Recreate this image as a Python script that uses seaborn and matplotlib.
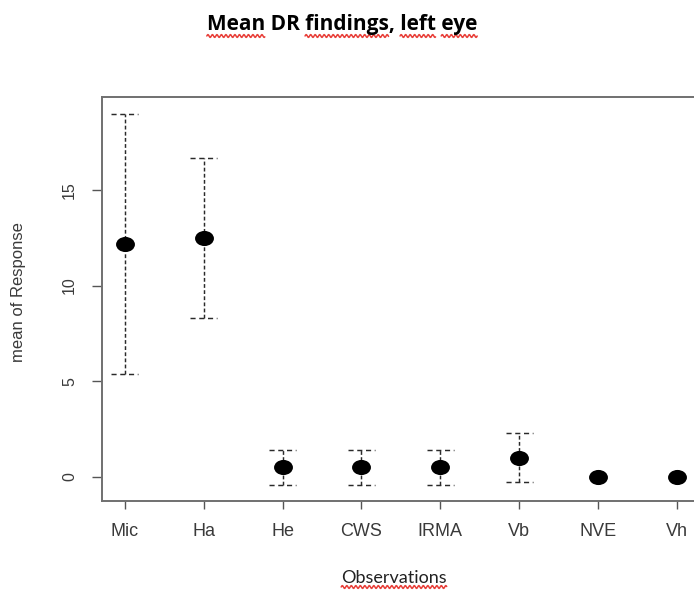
import numpy as np
import pandas as pd
import matplotlib
matplotlib.use("Agg")
import matplotlib.pyplot as plt
from matplotlib.path import Path
from matplotlib.transforms import Affine2D
from matplotlib.lines import Line2D
import seaborn as sns

categories = ["Mic", "Ha", "He", "CWS", "IRMA", "Vb", "NVE", "Vh"]
means = [12.2, 12.5, 0.5, 0.5, 0.5, 1.0, 0.0, 0.0]
upper = [19.0, 16.7, 1.4, 1.4, 1.4, 2.3, np.nan, np.nan]
lower = [5.4, 8.3, -0.45, -0.45, -0.45, -0.3, np.nan, np.nan]
yticks = [0, 5, 10, 15]

sns.set_style("white")
plt.rcParams["font.family"] = ["Liberation Sans", "DejaVu Sans"]

df = pd.DataFrame({"category": categories, "mean": means,
                   "upper": upper, "lower": lower})
df["pos"] = np.arange(len(df))

W, H = 694, 590
fig = plt.figure(figsize=(W / 100, H / 100), dpi=100)
ax = fig.add_axes([102 / W, (H - 500.7) / H, 597.7 / W, 403.7 / H])

# error bars (dashed) and dashed caps
err = df.dropna(subset=["upper"])
ax.vlines(err["pos"], err["lower"], err["upper"], colors="#2a2a2a",
          linestyles=(0, (2.6, 1.6)), linewidth=1.05, zorder=2)
cw = 0.17
ax.hlines(err["upper"], err["pos"] - cw, err["pos"] + cw, colors="#2a2a2a",
          linestyles=(0, (3.5, 2.5)), linewidth=1.05, zorder=2)
ax.hlines(err["lower"], err["pos"] - cw, err["pos"] + cw, colors="#2a2a2a",
          linestyles=(0, (3.5, 2.5)), linewidth=1.05, zorder=2)

# slightly wide dot, as in the (horizontally stretched) original
ellipse = Path.unit_circle().transformed(Affine2D().scale(1.25, 1.0))
sns.scatterplot(data=df, x="pos", y="mean", ax=ax, color="black", s=185,
                marker=ellipse, edgecolor="black", linewidth=0, zorder=3,
                legend=False)

ax.set_xlim(-0.29, 7.29)
ax.set_ylim(-1.256, 19.87)
ax.set_xticks(df["pos"])
ax.set_xticklabels(categories)
ax.set_yticks(yticks)
ax.set_yticklabels([str(t) for t in yticks])

for side in ["left", "top", "bottom", "right"]:
    ax.spines[side].set_color("#707070")
    ax.spines[side].set_linewidth(1.4)

ax.tick_params(axis="x", direction="out", length=6, width=1.0,
               colors="#555555", pad=10, labelsize=13,
               labelcolor="#3a3a3a", bottom=True)
ax.tick_params(axis="y", direction="out", length=7, width=1.0,
               colors="#555555", pad=11, labelsize=11.5,
               labelcolor="#3a3a3a", left=True, labelrotation=90)
for lab in ax.get_yticklabels():
    lab.set_va("center")

xl = ax.set_xlabel("Observations", fontsize=13, color="#222222",
                   family=["Lato", "DejaVu Sans"], va="baseline")
ax.xaxis.set_label_coords(394 / W, 1 - 583 / H, transform=fig.transFigure)
ax.set_ylabel("mean of Response", fontsize=12, color="#3a3a3a",
              rotation=90, ha="center", va="center", rotation_mode="default")
ax.yaxis.set_label_coords(19 / W, 1 - 292 / H, transform=fig.transFigure)

title_str = "Mean DR findings, left eye"
tt = fig.suptitle(title_str, x=342 / W, y=1 - 30 / H,
                  va="baseline", ha="center", fontsize=15, fontweight="bold",
                  family=["Open Sans", "DejaVu Sans"], color="black")

# red spell-check wavy underlines, placed from the text layout
fig.canvas.draw()
renderer = fig.canvas.get_renderer()


def text_width(s, prop):
    w, h, d = renderer.get_text_width_height_descent(s, prop, ismath=False)
    return w


def wavy(x0, x1, ybase):
    xs = np.arange(x0, x1 + 0.01, 0.5)
    ys = ybase + 1.4 * np.sin((xs - x0) / 4.5 * 2 * np.pi)
    fig.add_artist(Line2D(xs / W, ys / H, color="#e8403a", linewidth=1.1,
                          transform=fig.transFigure))


def underline_words(txt, words):
    s = txt.get_text()
    prop = txt.get_fontproperties()
    bb = txt.get_window_extent(renderer)
    full = text_width(s, prop)
    left = bb.x0 + (bb.width - full) / 2
    ybase = bb.y0 - 1
    start = 0
    for wd in words:
        i = s.index(wd, start)
        x0 = left + text_width(s[:i], prop) if i > 0 else left
        x1 = left + text_width(s[:i + len(wd)], prop)
        wavy(x0, x1, ybase)
        start = i + len(wd)


underline_words(tt, ["Mean", "findings", "left", "eye"])
underline_words(xl, ["Observations"])

fig.savefig("out.png", dpi=100)
